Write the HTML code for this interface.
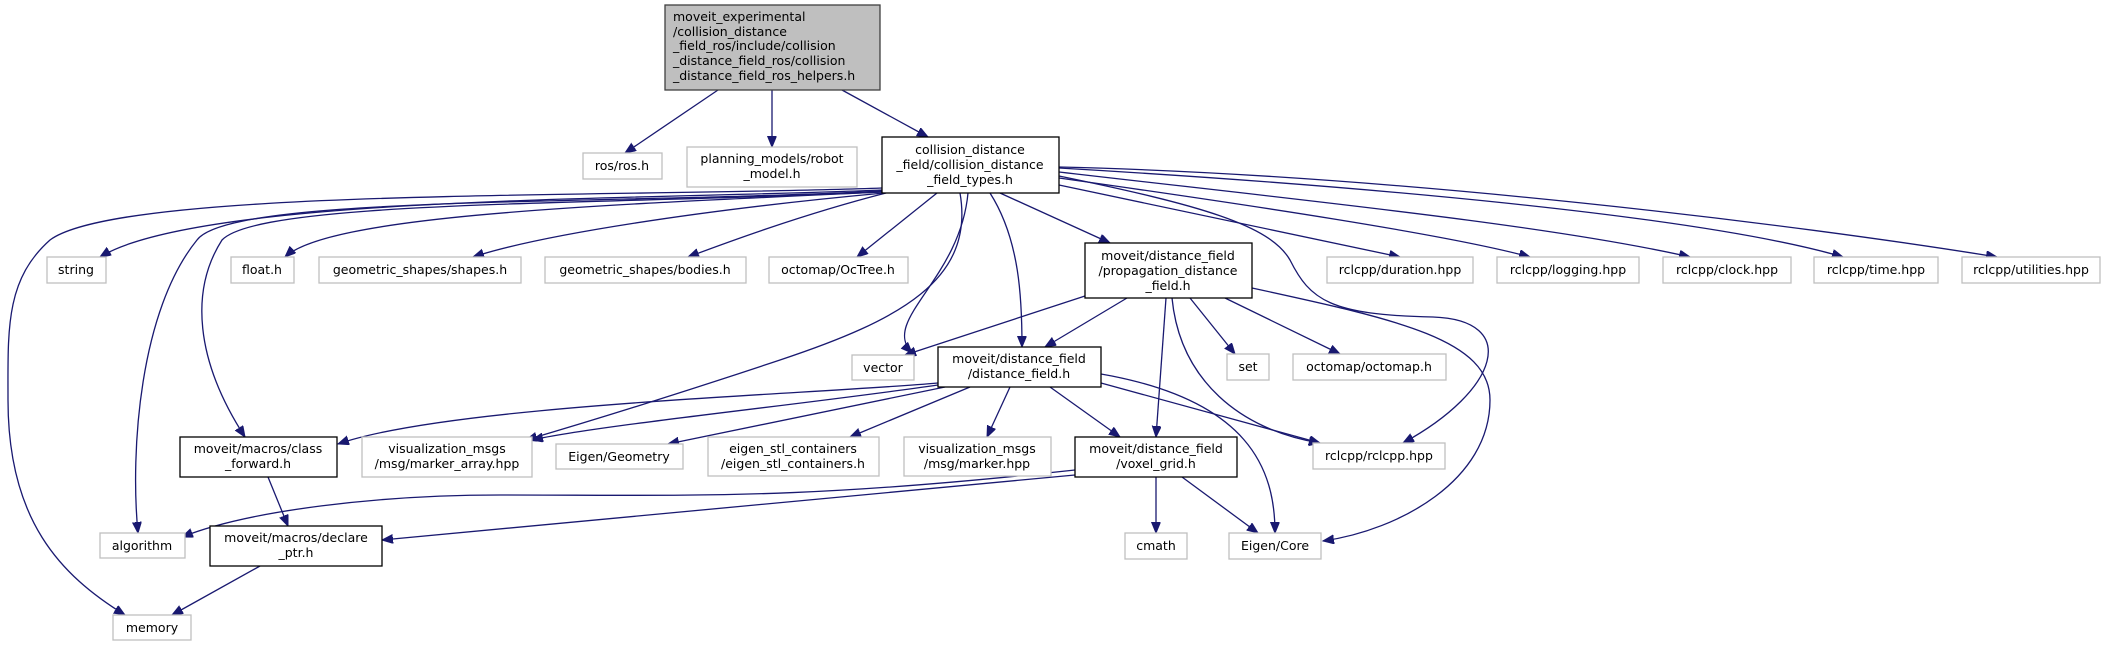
<!DOCTYPE html>
<html><head><meta charset="utf-8"><style>
html,body{margin:0;padding:0;background:#fff;}
svg{display:block;}
text{font-family:"DejaVu Sans","Liberation Sans",sans-serif;font-size:12.5px;fill:#000;}
.g rect{fill:#fff;stroke:#bfbfbf;stroke-width:1.3;}
.b rect{fill:#fff;stroke:#000;stroke-width:1.3;}
path.e{fill:none;stroke:#191970;stroke-width:1.3;}
</style></head><body>
<svg width="2110" height="647" viewBox="0 0 2110 647" xmlns="http://www.w3.org/2000/svg">
<defs><marker id="a" markerUnits="userSpaceOnUse" markerWidth="12" markerHeight="10" refX="11" refY="4.5" orient="auto"><path d="M0,0 L11,4.5 L0,9 z" fill="#191970" stroke="#191970"/></marker></defs>
<g marker-end="url(#a)">
<path class="e" d="M718,90 L625,153"/>
<path class="e" d="M772,90 L772,147"/>
<path class="e" d="M842,90 L928,137"/>
<path class="e" d="M882,190 C650,200 200,195 100,257"/>
<path class="e" d="M882,188 C600,198 120,188 50,240 C5,280 8,330 8,400 C8,520 60,575 125,615"/>
<path class="e" d="M882,191 C600,205 230,195 197,240 C140,310 130,450 138,533"/>
<path class="e" d="M882,192 C600,205 260,200 222,240 C190,290 195,360 245,437"/>
<path class="e" d="M882,192 C600,205 330,215 285,257"/>
<path class="e" d="M884,193 C700,210 540,235 473,257"/>
<path class="e" d="M886,193 C800,215 720,245 688,257"/>
<path class="e" d="M937,193 L857,257"/>
<path class="e" d="M968,193 C960,280 880,320 912,353"/>
<path class="e" d="M960,193 C975,280 900,320 780,360 C660,400 560,430 526,440"/>
<path class="e" d="M990,193 C1020,240 1022,300 1022,347"/>
<path class="e" d="M1000,193 L1110,243"/>
<path class="e" d="M1059,185 L1400,257"/>
<path class="e" d="M1059,178 C1250,205 1450,235 1530,257"/>
<path class="e" d="M1059,172 C1300,200 1550,225 1690,257"/>
<path class="e" d="M1059,168 C1350,185 1700,215 1843,257"/>
<path class="e" d="M1059,167 C1400,175 1800,225 1997,257"/>
<path class="e" d="M1059,176 C1200,205 1270,225 1290,260 C1310,300 1330,315 1433,317 C1520,320 1500,390 1403,443"/>
<path class="e" d="M1085,296 L905,355"/>
<path class="e" d="M1127,298 L1045,347"/>
<path class="e" d="M1166,298 L1156,437"/>
<path class="e" d="M1172,298 C1180,380 1240,430 1320,443"/>
<path class="e" d="M1190,298 L1235,354"/>
<path class="e" d="M1225,298 L1340,354"/>
<path class="e" d="M1252,288 C1400,320 1490,340 1490,400 C1490,480 1400,530 1323,541"/>
<path class="e" d="M938,383 C800,395 450,405 338,444"/>
<path class="e" d="M938,385 C800,405 600,425 532,440"/>
<path class="e" d="M945,387 L668,444"/>
<path class="e" d="M970,387 L850,437"/>
<path class="e" d="M1010,387 L987,437"/>
<path class="e" d="M1050,387 L1120,437"/>
<path class="e" d="M1101,383 L1320,443"/>
<path class="e" d="M1101,374 C1250,400 1275,470 1275,533"/>
<path class="e" d="M1075,470 C800,500 700,495 500,495 C380,495 250,510 182,537"/>
<path class="e" d="M1075,475 L382,540"/>
<path class="e" d="M1156,477 L1156,533"/>
<path class="e" d="M1182,477 L1258,533"/>
<path class="e" d="M268,477 L288,526"/>
<path class="e" d="M260,566 L172,615"/>
</g>
<g>
<rect x="665" y="5" width="215" height="85" fill="#bfbfbf" stroke="#404040" stroke-width="1.3"/>
<text x="673" y="21">moveit_experimental</text>
<text x="673" y="36">/collision_distance</text>
<text x="673" y="50">_field_ros/include/collision</text>
<text x="673" y="65">_distance_field_ros/collision</text>
<text x="673" y="80">_distance_field_ros_helpers.h</text>
</g>
<g class="b" text-anchor="middle">
<rect x="882" y="137" width="177" height="56"/>
<text x="970" y="154">collision_distance</text><text x="970" y="169">_field/collision_distance</text><text x="970" y="184">_field_types.h</text>
<rect x="1085" y="243" width="167" height="55"/>
<text x="1168" y="260">moveit/distance_field</text><text x="1168" y="275">/propagation_distance</text><text x="1168" y="290">_field.h</text>
<rect x="938" y="347" width="163" height="40"/>
<text x="1019" y="363">moveit/distance_field</text><text x="1019" y="378">/distance_field.h</text>
<rect x="1075" y="437" width="162" height="40"/>
<text x="1156" y="453">moveit/distance_field</text><text x="1156" y="468">/voxel_grid.h</text>
<rect x="180" y="437" width="157" height="40"/>
<text x="258" y="453">moveit/macros/class</text><text x="258" y="468">_forward.h</text>
<rect x="210" y="526" width="172" height="40"/>
<text x="296" y="542">moveit/macros/declare</text><text x="296" y="557">_ptr.h</text>
</g>
<g class="g" text-anchor="middle">
<rect x="583" y="153" width="79" height="26"/><text x="622" y="170">ros/ros.h</text>
<rect x="687" y="147" width="170" height="40"/><text x="772" y="163">planning_models/robot</text><text x="772" y="178">_model.h</text>
<rect x="47" y="257" width="59" height="26"/><text x="76" y="274">string</text>
<rect x="231" y="257" width="63" height="26"/><text x="262" y="274">float.h</text>
<rect x="319" y="257" width="202" height="26"/><text x="420" y="274">geometric_shapes/shapes.h</text>
<rect x="545" y="257" width="201" height="26"/><text x="645" y="274">geometric_shapes/bodies.h</text>
<rect x="769" y="257" width="139" height="26"/><text x="838" y="274">octomap/OcTree.h</text>
<rect x="1327" y="257" width="146" height="26"/><text x="1400" y="274">rclcpp/duration.hpp</text>
<rect x="1497" y="257" width="142" height="26"/><text x="1568" y="274">rclcpp/logging.hpp</text>
<rect x="1663" y="257" width="128" height="26"/><text x="1727" y="274">rclcpp/clock.hpp</text>
<rect x="1814" y="257" width="124" height="26"/><text x="1876" y="274">rclcpp/time.hpp</text>
<rect x="1962" y="257" width="138" height="26"/><text x="2031" y="274">rclcpp/utilities.hpp</text>
<rect x="852" y="355" width="62" height="25"/><text x="883" y="372">vector</text>
<rect x="1227" y="354" width="42" height="26"/><text x="1248" y="371">set</text>
<rect x="1293" y="354" width="153" height="26"/><text x="1369" y="371">octomap/octomap.h</text>
<rect x="362" y="437" width="170" height="40"/><text x="447" y="453">visualization_msgs</text><text x="447" y="468">/msg/marker_array.hpp</text>
<rect x="556" y="444" width="127" height="25"/><text x="619" y="461">Eigen/Geometry</text>
<rect x="708" y="437" width="171" height="39"/><text x="793" y="453">eigen_stl_containers</text><text x="793" y="468">/eigen_stl_containers.h</text>
<rect x="904" y="437" width="147" height="39"/><text x="977" y="453">visualization_msgs</text><text x="977" y="468">/msg/marker.hpp</text>
<rect x="1313" y="443" width="132" height="26"/><text x="1379" y="460">rclcpp/rclcpp.hpp</text>
<rect x="100" y="533" width="85" height="25"/><text x="142" y="550">algorithm</text>
<rect x="1125" y="533" width="62" height="26"/><text x="1156" y="550">cmath</text>
<rect x="1229" y="533" width="92" height="26"/><text x="1275" y="550">Eigen/Core</text>
<rect x="113" y="615" width="78" height="25"/><text x="152" y="632">memory</text>
</g>
</svg>
</body></html>
